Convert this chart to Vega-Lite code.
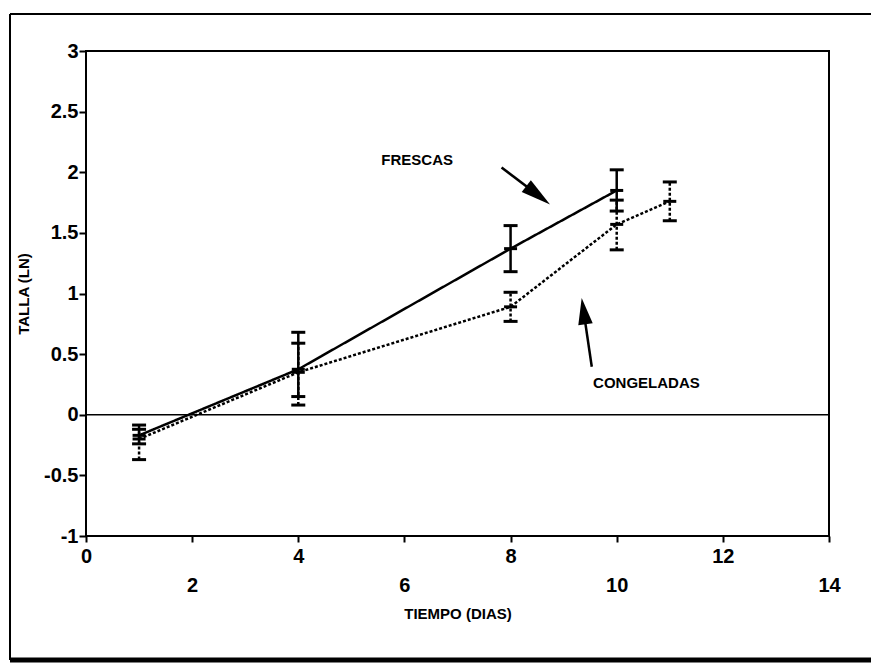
{
  "$schema": "https://vega.github.io/schema/vega-lite/v6.json",
  "width": 743,
  "height": 485,
  "autosize": "none",
  "padding": {"left": 86, "top": 51, "right": 42, "bottom": 130},
  "background": "white",
  "config": {
    "view": {"stroke": "black", "strokeWidth": 2},
    "axis": {"grid": false, "domain": false, "tickColor": "black", "labelColor": "black", "titleColor": "black"}
  },
  "datasets": {
    "series": [
      {"grupo": "FRESCAS", "dia": 1, "media": -0.17, "lo": -0.24, "hi": -0.085},
      {"grupo": "FRESCAS", "dia": 4, "media": 0.375, "lo": 0.15, "hi": 0.68},
      {"grupo": "FRESCAS", "dia": 8, "media": 1.37, "lo": 1.18, "hi": 1.56},
      {"grupo": "FRESCAS", "dia": 10, "media": 1.85, "lo": 1.68, "hi": 2.02},
      {"grupo": "CONGELADAS", "dia": 1, "media": -0.2, "lo": -0.37, "hi": -0.12},
      {"grupo": "CONGELADAS", "dia": 4, "media": 0.35, "lo": 0.08, "hi": 0.59},
      {"grupo": "CONGELADAS", "dia": 8, "media": 0.89, "lo": 0.77, "hi": 1.01},
      {"grupo": "CONGELADAS", "dia": 10, "media": 1.57, "lo": 1.36, "hi": 1.77},
      {"grupo": "CONGELADAS", "dia": 11, "media": 1.76, "lo": 1.6, "hi": 1.92}
    ],
    "notas": [
      {"texto": "FRESCAS", "x": 6.24, "y": 2.104},
      {"texto": "CONGELADAS", "x": 10.56, "y": 0.258}
    ],
    "flechas": [
      {"nombre": "FRESCAS", "x": 7.83, "y": 2.04, "x2": 8.52, "y2": 1.81},
      {"nombre": "CONGELADAS", "x": 9.53, "y": 0.396, "x2": 9.376, "y2": 0.854}
    ]
  },
  "layer": [
    {
      "data": {"name": "series"},
      "mark": {"type": "line", "color": "black", "strokeWidth": 2.5},
      "encoding": {
        "x": {
          "field": "dia", "type": "quantitative",
          "scale": {"domain": [0, 14], "nice": false, "zero": false},
          "axis": {
            "title": "TIEMPO (DIAS)",
            "values": [0, 2, 4, 6, 8, 10, 12, 14],
            "tickSize": 6, "tickWidth": 2,
            "labelExpr": "datum.value % 4 == 0 ? datum.label : ['', datum.label]",
            "labelLineHeight": 29,
            "labelFont": "Liberation Sans", "labelFontWeight": "bold", "labelFontSize": 20,
            "labelPadding": 4, "labelFlush": false, "labelOverlap": false,
            "titleFont": "Liberation Sans", "titleFontWeight": "bold", "titleFontSize": 15,
            "titlePadding": 11
          }
        },
        "y": {
          "field": "media", "type": "quantitative",
          "scale": {"domain": [-1, 3], "nice": false, "zero": false},
          "axis": {
            "title": "TALLA (LN)",
            "values": [-1, -0.5, 0, 0.5, 1, 1.5, 2, 2.5, 3],
            "tickSize": 7, "tickWidth": 2,
            "labelExpr": "'' + datum.value",
            "labelFont": "Liberation Sans", "labelFontWeight": "bold", "labelFontSize": 20,
            "labelPadding": 1, "labelFlush": false, "labelOverlap": false,
            "titleFont": "Liberation Sans", "titleFontWeight": "bold", "titleFontSize": 15,
            "titlePadding": 12
          }
        },
        "detail": {"field": "grupo"},
        "strokeDash": {
          "field": "grupo", "type": "nominal",
          "scale": {"domain": ["FRESCAS", "CONGELADAS"], "range": [[1, 0], [3, 2]]},
          "legend": null
        }
      }
    },
    {
      "data": {"values": [{}]},
      "mark": {"type": "rule", "color": "black", "strokeWidth": 2},
      "encoding": {
        "x": {"datum": -1.432, "type": "quantitative"},
        "x2": {"datum": 14.9},
        "y": {"datum": 3.305, "type": "quantitative"}
      }
    },
    {
      "data": {"values": [{}]},
      "mark": {"type": "rule", "color": "black", "strokeWidth": 2},
      "encoding": {
        "x": {"datum": -1.432, "type": "quantitative"},
        "y": {"datum": 3.305, "type": "quantitative"},
        "y2": {"datum": -2.023}
      }
    },
    {
      "data": {"values": [{}]},
      "mark": {"type": "rule", "color": "black", "strokeWidth": 5},
      "encoding": {
        "x": {"datum": -1.432, "type": "quantitative"},
        "x2": {"datum": 14.9},
        "y": {"datum": -2.023, "type": "quantitative"}
      }
    },
    {
      "data": {"values": [{}]},
      "mark": {"type": "rule", "color": "black", "strokeWidth": 1.5},
      "encoding": {
        "y": {"datum": 0, "type": "quantitative"}
      }
    },
    {
      "data": {"name": "series"},
      "mark": {"type": "rule", "color": "black", "strokeWidth": 2.5},
      "encoding": {
        "x": {"field": "dia", "type": "quantitative"},
        "y": {"field": "lo", "type": "quantitative"},
        "y2": {"field": "hi"},
        "strokeDash": {
          "field": "grupo", "type": "nominal",
          "scale": {"domain": ["FRESCAS", "CONGELADAS"], "range": [[1, 0], [4, 3]]},
          "legend": null
        }
      }
    },
    {
      "data": {"name": "series"},
      "mark": {"type": "tick", "color": "black", "opacity": 1, "orient": "horizontal", "size": 14, "thickness": 3},
      "encoding": {
        "x": {"field": "dia", "type": "quantitative"},
        "y": {"field": "lo", "type": "quantitative"}
      }
    },
    {
      "data": {"name": "series"},
      "mark": {"type": "tick", "color": "black", "opacity": 1, "orient": "horizontal", "size": 14, "thickness": 3},
      "encoding": {
        "x": {"field": "dia", "type": "quantitative"},
        "y": {"field": "hi", "type": "quantitative"}
      }
    },
    {
      "data": {"name": "series"},
      "mark": {"type": "tick", "color": "black", "opacity": 1, "orient": "horizontal", "size": 13, "thickness": 3},
      "encoding": {
        "x": {"field": "dia", "type": "quantitative"},
        "y": {"field": "media", "type": "quantitative"}
      }
    },
    {
      "data": {"name": "flechas"},
      "mark": {"type": "rule", "color": "black", "strokeWidth": 2.5},
      "encoding": {
        "x": {"field": "x", "type": "quantitative"},
        "y": {"field": "y", "type": "quantitative"},
        "x2": {"field": "x2"},
        "y2": {"field": "y2"}
      }
    },
    {
      "data": {"name": "flechas"},
      "transform": [{"filter": "datum.nombre == 'FRESCAS'"}],
      "mark": {"type": "point", "shape": "M0,-1L0.5,1L-0.5,1Z", "filled": true, "color": "black", "opacity": 1, "size": 900, "angle": 127.6},
      "encoding": {
        "x": {"field": "x2", "type": "quantitative"},
        "y": {"field": "y2", "type": "quantitative"}
      }
    },
    {
      "data": {"name": "flechas"},
      "transform": [{"filter": "datum.nombre == 'CONGELADAS'"}],
      "mark": {"type": "point", "shape": "M0,-1L0.55,1L-0.55,1Z", "filled": true, "color": "black", "opacity": 1, "size": 700, "angle": 351.7},
      "encoding": {
        "x": {"field": "x2", "type": "quantitative"},
        "y": {"field": "y2", "type": "quantitative"}
      }
    },
    {
      "data": {"name": "notas"},
      "mark": {"type": "text", "font": "Liberation Sans", "fontWeight": "bold", "fontSize": 15, "color": "black", "align": "center", "baseline": "middle"},
      "encoding": {
        "x": {"field": "x", "type": "quantitative"},
        "y": {"field": "y", "type": "quantitative"},
        "text": {"field": "texto"}
      }
    }
  ]
}
